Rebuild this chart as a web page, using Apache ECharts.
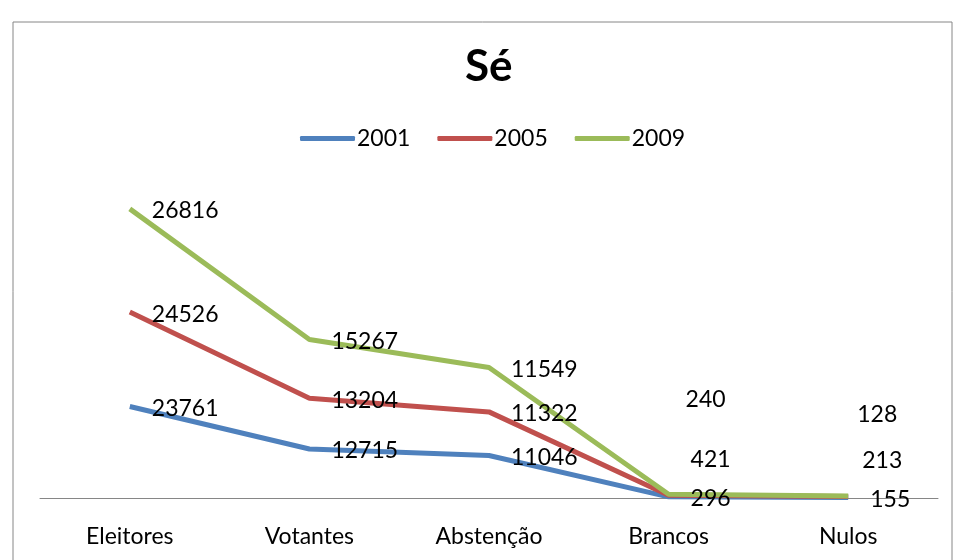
<!DOCTYPE html>
<html>
<head>
<meta charset="utf-8">
<script src="https://cdn.jsdelivr.net/npm/echarts@6/dist/echarts.min.js"></script>
<style>
  html, body { margin: 0; padding: 0; background: #fff; }
  #chart { width: 955px; height: 560px; }
</style>
</head>
<body>
<div id="chart"></div>
<script>
  // categorias e valores (linhas empilhadas, como no Excel)
  var categories = ['Eleitores', 'Votantes', 'Abstenção', 'Brancos', 'Nulos']
  var years = ['2001', '2005', '2009']
  var values2001 = [23761, 12715, 11046, 296, 155]
  var values2005 = [24526, 13204, 11322, 421, 213]
  var values2009 = [26816, 15267, 11549, 240, 128]

  var colors = ['#4F81BD', '#C0504D', '#9BBB59']
  var font = 'Lato, "Open Sans", sans-serif'

  // rótulos que foram arrastados à mão no original (Brancos, Nulos)
  var labelShift = [
    {},
    { 3: [0, -38], 4: [-8, -38] },
    { 3: [-5, -97], 4: [-13, -84] }
  ]

  function buildData(values, s) {
    return values.map(function (v, i) {
      var item = { value: v }
      if (labelShift[s][i]) {
        var off = labelShift[s][i]
        item.label = { offset: [off[0], off[1] + 2] }
      }
      return item
    })
  }

  var chart = echarts.init(document.getElementById('chart'))
  chart.setOption({
    animation: false,
    color: colors,
    title: {
      text: 'Sé',
      left: 460,
      top: 40,
      textStyle: { fontFamily: font, fontSize: 44, fontWeight: 'bold', color: '#000' }
    },
    legend: {
      data: years,
      left: 295,
      top: 122,
      icon: 'roundRect',
      itemWidth: 55,
      itemHeight: 5,
      itemGap: 27,
      textStyle: { fontFamily: font, fontSize: 23, color: '#000', padding: [0, 0, 0, -3] }
    },
    graphic: [{
      type: 'rect',
      shape: { x: 13, y: 22, width: 939, height: 600 },
      style: { fill: 'none', stroke: '#868686', lineWidth: 1 },
      silent: true
    }],
    grid: { left: 40, right: 17, top: 190, bottom: 62 },
    xAxis: {
      type: 'category',
      data: categories,
      boundaryGap: true,
      axisTick: { show: false },
      axisLine: { lineStyle: { color: '#868686', width: 1 } },
      axisLabel: { fontFamily: font, fontSize: 23, color: '#000', margin: 27 }
    },
    yAxis: {
      type: 'value',
      show: false,
      min: 0,
      max: 80000,
      splitLine: { show: false }
    },
    series: [values2001, values2005, values2009].map(function (vals, s) {
      return {
        name: years[s],
        type: 'line',
        stack: 'total',
        data: buildData(vals, s),
        showSymbol: true,
        symbol: 'circle',
        symbolSize: 0,
        lineStyle: { width: 5, color: colors[s] },
        label: {
          show: true,
          position: 'right',
          distance: 22,
          offset: [0, 2],
          fontFamily: font,
          fontSize: 23,
          color: '#000'
        },
        z: 2
      }
    })
  })
</script>
</body>
</html>
